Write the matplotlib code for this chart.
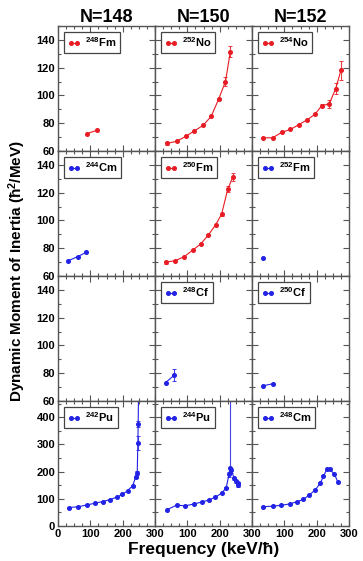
import matplotlib
matplotlib.use("Agg")
import matplotlib.pyplot as plt
from matplotlib.ticker import MultipleLocator, FixedLocator, FixedFormatter

plt.rcParams['font.family'] = ['Liberation Sans', 'DejaVu Sans']
plt.rcParams['font.weight'] = 'bold'
plt.rcParams['mathtext.fontset'] = 'custom'
plt.rcParams['mathtext.rm'] = 'Liberation Sans:bold'
plt.rcParams['mathtext.bf'] = 'Liberation Sans:bold'
plt.rcParams['mathtext.it'] = 'Liberation Sans:bold'
plt.rcParams['mathtext.default'] = 'bf'

# ---- data: rotational frequency (keV/hbar) and dynamic moment of inertia ----
columns = ["N=148", "N=150", "N=152"]

fm248_x = [89, 122]
fm248_y = [72.5, 75]
fm248_e = [0, 0]

no252_x = [38, 67, 95, 122, 149, 174, 197, 218, 233]
no252_y = [65.5, 67, 70.5, 74.5, 78.5, 85, 97.5, 110, 131.5]
no252_e = [1, 0, 0, 0, 0, 0, 1, 3, 4]

no254_x = [35, 64, 92, 119, 145, 171, 195, 215, 239, 259, 275]
no254_y = [69.5, 69.5, 73.5, 75.5, 79, 82.5, 86.5, 92.5, 94, 105, 118]
no254_e = [0, 0, 0, 0, 0, 0, 0, 1, 3, 4, 7]

cm244_x = [32, 61, 87]
cm244_y = [71, 74, 77]
cm244_e = [0, 0, 0]

fm250_x = [34, 62, 91, 116, 141, 165, 188, 206, 225, 241]
fm250_y = [70, 71, 74, 78.5, 83, 89.5, 97, 104.5, 122.5, 131.5]
fm250_e = [1, 0, 0, 0, 0, 0, 0, 1, 2, 3]

fm252_x = [33]
fm252_y = [73]
fm252_e = [0]

cf248_x = [33, 60]
cf248_y = [73.3, 78.7]
cf248_e = [0, 4]

cf250_x = [35, 64]
cf250_y = [71, 72.4]
cf250_e = [0, 0]

pu242_x = [34, 63, 91, 115, 138, 161, 181, 199, 215, 231, 240, 245, 247, 248, 249]
pu242_y = [68, 71, 78, 84, 90, 97, 106, 116, 130, 148, 180, 195, 305, 375, 480]
pu242_e = [0, 0, 0, 0, 0, 0, 0, 0, 0, 3, 5, 8, 25, 10, 0]

pu244_x = [36, 67, 93, 120, 144, 168, 187, 206, 220, 229, 232, 236, 245, 252, 257, 258]
pu244_y = [59, 77, 74, 81, 88, 96, 106, 121, 140, 190, 215, 205, 175, 165, 158, 150]
pu244_e = [0, 0, 0, 0, 0, 0, 0, 0, 3, 8, 300, 10, 5, 5, 5, 5]

cm248_x = [35, 64, 90, 116, 138, 159, 177, 195, 211, 221, 231, 241, 255, 265]
cm248_y = [71, 73, 76, 81, 89, 98, 114, 132, 157, 183, 208, 208, 191, 163]
cm248_e = [0, 0, 0, 0, 0, 0, 0, 0, 0, 0, 0, 0, 0, 0]

RED = "#e81c24"
BLUE = "#2222e6"

panels = {
    (0, 0): ("248", "Fm", fm248_x, fm248_y, fm248_e, RED),
    (0, 1): ("252", "No", no252_x, no252_y, no252_e, RED),
    (0, 2): ("254", "No", no254_x, no254_y, no254_e, RED),
    (1, 0): ("244", "Cm", cm244_x, cm244_y, cm244_e, BLUE),
    (1, 1): ("250", "Fm", fm250_x, fm250_y, fm250_e, RED),
    (1, 2): ("252", "Fm", fm252_x, fm252_y, fm252_e, BLUE),
    (2, 1): ("248", "Cf", cf248_x, cf248_y, cf248_e, BLUE),
    (2, 2): ("250", "Cf", cf250_x, cf250_y, cf250_e, BLUE),
    (3, 0): ("242", "Pu", pu242_x, pu242_y, pu242_e, BLUE),
    (3, 1): ("244", "Pu", pu244_x, pu244_y, pu244_e, BLUE),
    (3, 2): ("248", "Cm", cm248_x, cm248_y, cm248_e, BLUE),
}

fig = plt.figure(figsize=(3.63, 5.61), dpi=100)
gs = fig.add_gridspec(4, 3, left=58 / 363, right=349 / 363,
                      bottom=1 - 526 / 561, top=1 - 26 / 561,
                      hspace=0, wspace=0)

SPINE = "#555555"
for r in range(4):
    for c in range(3):
        ax = fig.add_subplot(gs[r, c])
        ax.set_xlim(0, 300)
        if r < 3:
            ax.set_ylim(60, 150)
            ax.yaxis.set_major_locator(FixedLocator([60, 80, 100, 120, 140]))
            ax.yaxis.set_minor_locator(MultipleLocator(10))
        else:
            ax.set_ylim(0, 460)
            ax.yaxis.set_major_locator(FixedLocator([0, 100, 200, 300, 400]))
            ax.yaxis.set_minor_locator(MultipleLocator(50))
        ax.xaxis.set_major_locator(FixedLocator([0, 100, 200, 300]))
        ax.xaxis.set_minor_locator(MultipleLocator(25))
        ax.tick_params(which='both', direction='in', top=True, right=True,
                       color=SPINE, width=0.8, labelsize=8, pad=2)
        ax.tick_params(which='major', length=4)
        ax.tick_params(which='minor', length=2.5)
        for s in ax.spines.values():
            s.set_color(SPINE)
            s.set_linewidth(1.0)
        if c > 0:
            ax.tick_params(labelleft=False)
        if r < 3:
            ax.tick_params(labelbottom=False)
        else:
            if c > 0:
                ax.xaxis.set_major_formatter(FixedFormatter(["", "100", "200", "300"]))
        for lab in ax.get_xticklabels() + ax.get_yticklabels():
            lab.set_fontweight('bold')
        if r == 0:
            ax.set_title(columns[c], fontsize=13, fontweight='bold', pad=3)

        if (r, c) in panels:
            mass, elem, xs, ys, es, col = panels[(r, c)]
            if (r, c) == (3, 1):
                lower = [min(e, 20) for e in es]
                yerr = [lower, es]
            else:
                yerr = es
            ax.errorbar(xs, ys, yerr=yerr, fmt='none', ecolor=col,
                        elinewidth=0.8, capsize=1.6, capthick=0.7, alpha=0.85)
            ax.plot(xs, ys, '-o', color=col, lw=0.8, ms=2.6, mec=col,
                    label=r"$^{%s}$%s" % (mass, elem))
            leg = ax.legend(loc='upper left', numpoints=2, handlelength=1.2,
                            handletextpad=0.4, borderpad=0.3, fancybox=False,
                            framealpha=1, edgecolor='#444444',
                            prop={'weight': 'bold', 'size': 8},
                            borderaxespad=0.55)
            leg.get_frame().set_linewidth(0.9)

fig.text(0.047, 0.517, "Dynamic Moment of Inertia (ħ$^2$/MeV)", rotation=90,
         ha='center', va='center', fontsize=11, fontweight='bold')
fig.text((58 + 349) / 2 / 363, 0.02, "Frequency (keV/ħ)", ha='center',
         va='center', fontsize=12.5, fontweight='bold')

fig.savefig("out.png", dpi=100)
